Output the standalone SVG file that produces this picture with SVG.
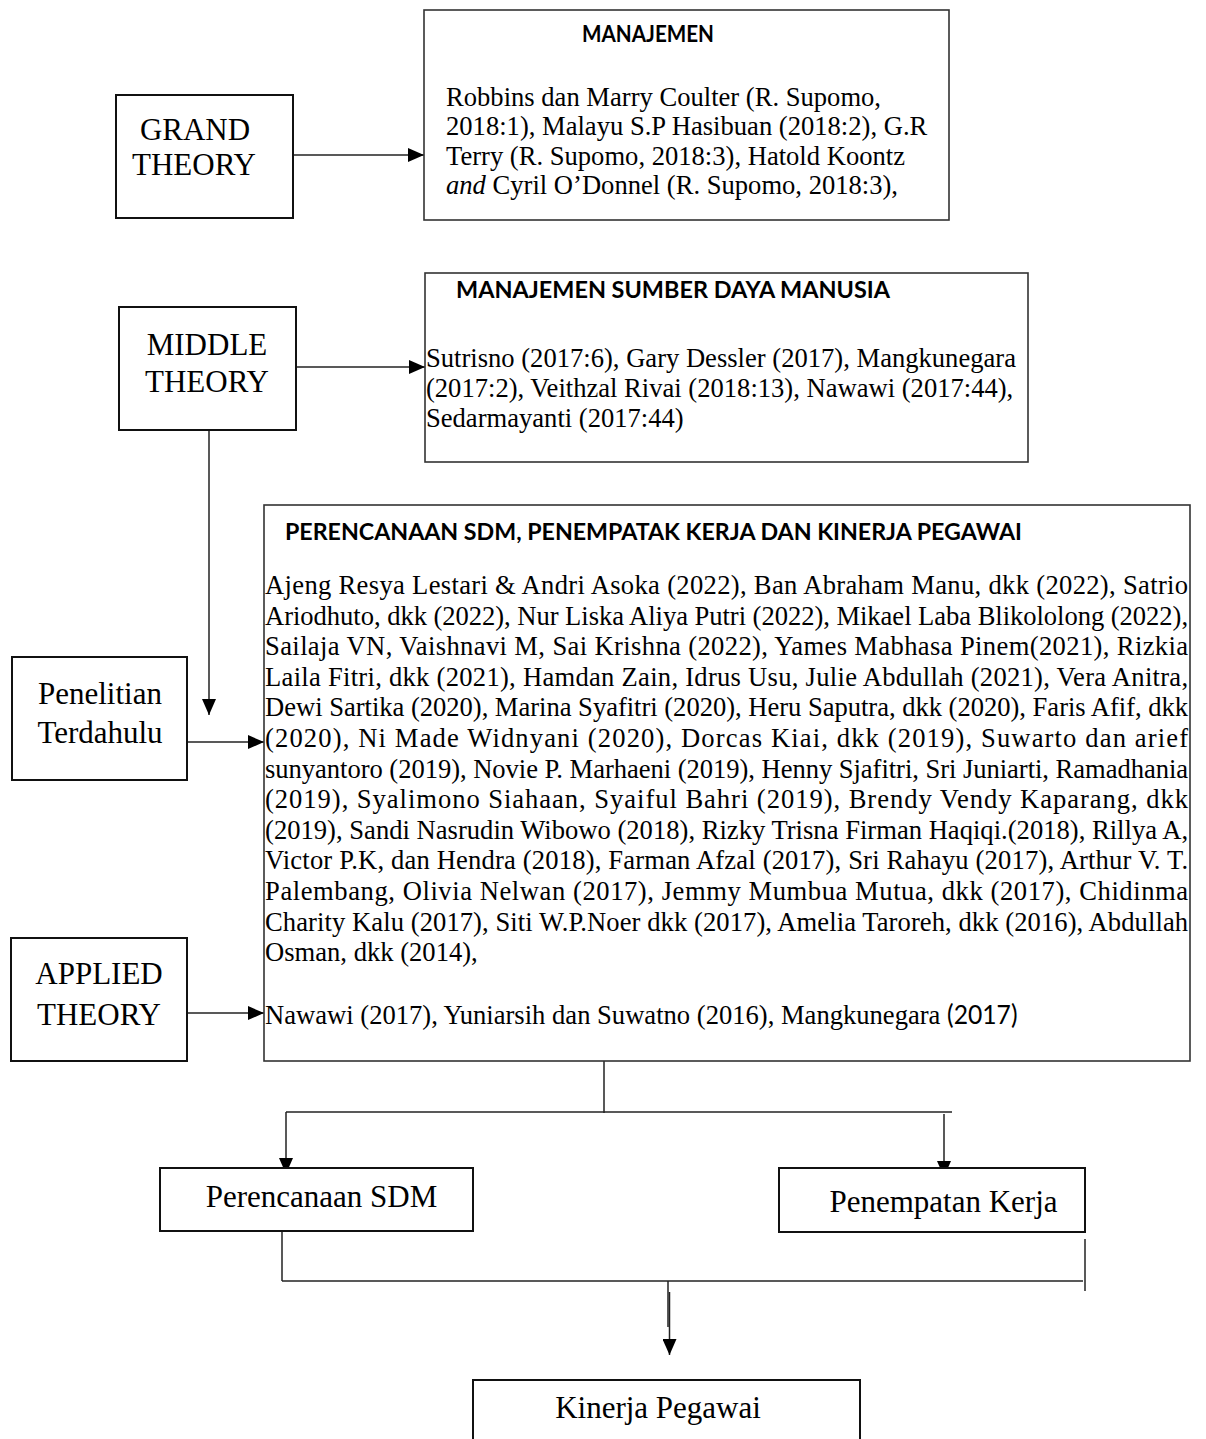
<svg xmlns="http://www.w3.org/2000/svg" width="1206" height="1439" viewBox="0 0 1206 1439">
<style>
  .box { fill: #fff; stroke: #111; stroke-width: 2; }
  .cbox { fill: #fff; stroke: #333; stroke-width: 1.6; }
  .lbl { font-family: "Liberation Serif", "Times New Roman", serif; font-size: 31px; fill: #000; text-anchor: middle; }
  .body { font-family: "Liberation Serif", "Times New Roman", serif; font-size: 28px; fill: #000; }
  .ttl { font-family: Lato, "Open Sans", "Liberation Sans", sans-serif; font-weight: 700; font-size: 22px; fill: #000; }
  .conn { fill: none; stroke: #222; stroke-width: 1.5; }
</style>
<defs>
  <marker id="ah" markerUnits="userSpaceOnUse" markerWidth="16" markerHeight="14" refX="16" refY="7" orient="auto">
    <path d="M0,0 L16,7 L0,14 z" fill="#000"/>
  </marker>
</defs>
<rect width="1206" height="1439" fill="#fff"/>

<g id="connectors">
  <line class="conn" x1="293" y1="155" x2="424" y2="155" marker-end="url(#ah)"/>
  <line class="conn" x1="297" y1="367" x2="425" y2="367" marker-end="url(#ah)"/>
  <line class="conn" x1="209" y1="430" x2="209" y2="715" marker-end="url(#ah)"/>
  <line class="conn" x1="187" y1="742" x2="264" y2="742" marker-end="url(#ah)"/>
  <line class="conn" x1="187" y1="1013" x2="264" y2="1013" marker-end="url(#ah)"/>
  <line class="conn" x1="604" y1="1061" x2="604" y2="1113"/>
  <line class="conn" x1="286" y1="1112" x2="952" y2="1112"/>
  <line class="conn" x1="286" y1="1112" x2="286" y2="1174" marker-end="url(#ah)"/>
  <line class="conn" x1="944" y1="1114" x2="944" y2="1177" marker-end="url(#ah)"/>
  <line class="conn" x1="282" y1="1229" x2="282" y2="1281"/>
  <line class="conn" x1="282" y1="1281" x2="1083" y2="1281"/>
  <line class="conn" x1="1085" y1="1239" x2="1085" y2="1291"/>
  <line class="conn" x1="668" y1="1281" x2="668" y2="1327"/>
  <line class="conn" x1="669.5" y1="1292" x2="669.5" y2="1355" marker-end="url(#ah)"/>
</g>

<g id="grand-theory">
  <rect class="box" x="116" y="95" width="177" height="123"/>
  <text class="lbl" x="195" y="140">GRAND</text>
  <text class="lbl" x="194" y="175">THEORY</text>
</g>

<g id="manajemen">
  <rect class="cbox" x="424" y="10" width="525" height="210"/>
  <text class="ttl" x="582" y="42" textLength="132" lengthAdjust="spacingAndGlyphs">MANAJEMEN</text>
  <g transform="scale(0.95,1)">
    <text class="body" x="469.5" y="106">Robbins dan Marry Coulter (R. Supomo,</text>
    <text class="body" x="469.5" y="135">2018:1), Malayu S.P Hasibuan (2018:2), G.R</text>
    <text class="body" x="469.5" y="165">Terry (R. Supomo, 2018:3), Hatold Koontz</text>
    <text class="body" x="469.5" y="194"><tspan font-style="italic">and</tspan> Cyril O’Donnel (R. Supomo, 2018:3),</text>
  </g>
</g>

<g id="middle-theory">
  <rect class="box" x="119" y="307" width="177" height="123"/>
  <text class="lbl" x="207" y="355">MIDDLE</text>
  <text class="lbl" x="207" y="392">THEORY</text>
</g>

<g id="msdm">
  <rect class="cbox" x="425" y="273" width="603" height="189"/>
  <text class="ttl" x="456" y="298" textLength="434" lengthAdjust="spacingAndGlyphs">MANAJEMEN SUMBER DAYA MANUSIA</text>
  <g transform="scale(0.95,1)">
    <text class="body" x="448.4" y="367">Sutrisno (2017:6), Gary Dessler (2017), Mangkunegara</text>
    <text class="body" x="448.4" y="397">(2017:2), Veithzal Rivai (2018:13), Nawawi (2017:44),</text>
    <text class="body" x="448.4" y="427">Sedarmayanti (2017:44)</text>
  </g>
</g>

<g id="penelitian-terdahulu">
  <rect class="box" x="12" y="657" width="175" height="123"/>
  <text class="lbl" x="100" y="704">Penelitian</text>
  <text class="lbl" x="100" y="743">Terdahulu</text>
</g>

<g id="perencanaan-box">
  <rect class="cbox" x="264" y="505" width="926" height="556"/>
  <text class="ttl" x="285" y="540" textLength="737" lengthAdjust="spacingAndGlyphs">PERENCANAAN SDM, PENEMPATAK KERJA DAN KINERJA PEGAWAI</text>
  <g transform="scale(0.95,1)">
    <text class="body" x="279" y="594" textLength="971.6" lengthAdjust="spacing">Ajeng Resya Lestari &amp; Andri Asoka (2022), Ban Abraham Manu, dkk (2022), Satrio</text>
    <text class="body" x="279" y="624.6" textLength="971.6" lengthAdjust="spacing">Ariodhuto, dkk (2022), Nur Liska Aliya Putri (2022), Mikael Laba Blikololong (2022),</text>
    <text class="body" x="279" y="655.2" textLength="971.6" lengthAdjust="spacing">Sailaja VN, Vaishnavi M, Sai Krishna (2022), Yames Mabhasa Pinem(2021), Rizkia</text>
    <text class="body" x="279" y="685.8" textLength="971.6" lengthAdjust="spacing">Laila Fitri, dkk (2021), Hamdan Zain, Idrus Usu, Julie Abdullah (2021), Vera Anitra,</text>
    <text class="body" x="279" y="716.4" textLength="971.6" lengthAdjust="spacing">Dewi Sartika (2020), Marina Syafitri (2020), Heru Saputra, dkk (2020), Faris Afif, dkk</text>
    <text class="body" x="279" y="747" textLength="971.6" lengthAdjust="spacing">(2020), Ni Made Widnyani (2020), Dorcas Kiai, dkk (2019), Suwarto dan arief</text>
    <text class="body" x="279" y="777.6" textLength="971.6" lengthAdjust="spacing">sunyantoro (2019), Novie P. Marhaeni (2019), Henny Sjafitri, Sri Juniarti, Ramadhania</text>
    <text class="body" x="279" y="808.2" textLength="971.6" lengthAdjust="spacing">(2019), Syalimono Siahaan, Syaiful Bahri (2019), Brendy Vendy Kaparang, dkk</text>
    <text class="body" x="279" y="838.8" textLength="971.6" lengthAdjust="spacing">(2019), Sandi Nasrudin Wibowo (2018), Rizky Trisna Firman Haqiqi.(2018), Rillya A,</text>
    <text class="body" x="279" y="869.4" textLength="971.6" lengthAdjust="spacing">Victor P.K, dan Hendra (2018), Farman Afzal (2017), Sri Rahayu (2017), Arthur V. T.</text>
    <text class="body" x="279" y="900" textLength="971.6" lengthAdjust="spacing">Palembang, Olivia Nelwan (2017), Jemmy Mumbua Mutua, dkk (2017), Chidinma</text>
    <text class="body" x="279" y="930.6" textLength="971.6" lengthAdjust="spacing">Charity Kalu (2017), Siti W.P.Noer dkk (2017), Amelia Taroreh, dkk (2016), Abdullah</text>
    <text class="body" x="279" y="961.2">Osman, dkk (2014),</text>
    <text class="body" x="279" y="1024">Nawawi (2017), Yuniarsih dan Suwatno (2016), Mangkunegara <tspan font-family="Lato, 'Open Sans', sans-serif" font-size="26">(2017)</tspan></text>
  </g>
</g>

<g id="applied-theory">
  <rect class="box" x="11" y="938" width="176" height="123"/>
  <text class="lbl" x="99" y="984">APPLIED</text>
  <text class="lbl" x="99" y="1025">THEORY</text>
</g>

<g id="perencanaan-sdm">
  <rect class="box" x="160" y="1168" width="313" height="63"/>
  <text class="lbl" x="321.5" y="1207">Perencanaan SDM</text>
</g>

<g id="penempatan-kerja">
  <rect class="box" x="779" y="1168" width="306" height="64"/>
  <text class="lbl" x="943.5" y="1212">Penempatan Kerja</text>
</g>

<g id="kinerja-pegawai">
  <rect class="box" x="473" y="1380" width="387" height="80"/>
  <text class="lbl" x="658" y="1418" font-size="28">Kinerja Pegawai</text>
</g>
</svg>
